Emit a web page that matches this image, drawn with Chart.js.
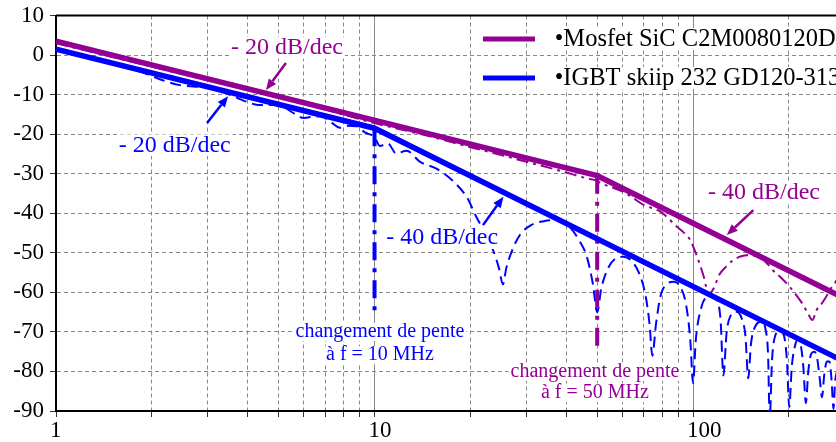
<!DOCTYPE html>
<html>
<head>
<meta charset="utf-8">
<script src="https://cdn.jsdelivr.net/npm/chart.js@4.4.1/dist/chart.umd.min.js"></script>
<style>
  html, body { margin: 0; padding: 0; background: #fff; overflow: hidden; }
</style>
</head>
<body>
<canvas id="chart" width="836" height="442"></canvas>
<script>
// frequency axis (MHz), log scale
const FREQ_TICKS = [1, 2, 3, 4, 5, 6, 7, 8, 9, 10, 20, 30, 40, 50, 60, 70, 80, 90, 100, 200]
const FREQ_LABELED = [1, 10, 100]
const FREQ_MAJOR = [10, 100]

const SERIES_NAMES = ["•Mosfet SiC C2M0080120D", "•IGBT skiip 232 GD120-313"]

// asymptotes (thick lines)
const mosAsymF = [1, 50, 300]
const mosAsymDb = [3.5, -30.5, -61.6]
const igbtAsymF = [1, 10, 300]
const igbtAsymDb = [1.5, -18.5, -77.6]

// slope-change markers
const igbtKneeF = [10, 10]
const igbtKneeDb = [-18.5, -65]
const mosKneeF = [50, 50]
const mosKneeDb = [-30.5, -75.5]

// measured spectrum, Mosfet (dash-dot)
const mosF = [1, 3, 6, 10, 15, 20, 25, 30, 35, 40, 46, 50, 51.3, 55, 60.5, 65, 70, 79, 89, 93, 98, 103, 108, 112,
  116, 121, 127, 133, 140, 147, 154, 161.5, 170, 178, 190, 200, 210, 221, 230, 237, 244, 250, 260, 270, 285]
const mosDb = [3.0, -6.4, -12.3, -17.2, -20.6, -23.3, -25.3, -27.0, -28.4, -29.7, -31.1, -31.8, -32.4, -33.3, -34.6, -36.2,
  -37.9, -39.6, -43.4, -44.7, -46.8, -51, -56, -60.5, -59, -55.5, -53.5, -52, -51, -50.6, -50.7, -51, -52.5, -54.4,
  -56.5, -58.4, -60.5, -63, -65.5, -67, -64.5, -63.5, -61.5, -59.2, -56.5]

// measured spectrum, IGBT (dashed)
const igbtF = [1, 1.5, 1.9, 2.15, 2.45, 2.75, 3.05, 3.3, 3.7, 4.0, 4.3, 4.6, 4.9, 5.2, 5.6, 6.0, 6.4, 6.8, 7.3, 7.8, 8.3,
  8.8, 9.3, 10, 10.4, 11, 11.7, 12.6, 13.9, 15.7, 17.6, 19.5, 20.9, 22.4, 23.6, 24.6, 25.3, 25.9, 27, 28.6, 31, 34,
  38, 41, 44, 46.4, 48.5, 50, 51.5, 54, 57, 60.5, 64, 68, 71, 73, 74.5, 76.5, 79, 83, 87, 91, 95, 98, 100, 102, 106,
  110, 114.5, 119, 122, 124.5, 127.5, 131, 137, 142, 146, 149, 152, 157, 164, 169, 172, 174, 177, 181, 187, 193, 197,
  200.5, 204, 209, 213, 218, 222, 226, 230, 235, 240, 245, 250, 254, 258, 263, 268, 272, 276, 279, 285]
const igbtDb = [1.3, -2.2, -4.6, -6.3, -7.6, -8.0, -8.4, -9.2, -10.8, -11.9, -12.6, -12.6, -12.6, -13.2, -14.8, -15.9,
  -15.6, -15.5, -17.0, -18.4, -17.9, -18.0, -19.5, -20.8, -23, -22.3, -24.9, -24.2, -27, -28.8, -31.8, -36, -41, -45.5,
  -49.5, -54, -58, -54, -49.5, -45.5, -43, -42, -41.7, -43.5, -47, -51, -58, -65, -59, -54, -51.5, -51, -52, -55.5,
  -61, -68, -76, -68, -61, -57.8, -57.3, -58.5, -63, -72, -83, -72, -64, -61.2, -60.7, -62, -67, -81, -70, -66, -64.9,
  -66.5, -71, -81.7, -73, -68.5, -67.4, -69.5, -76, -92, -77, -71, -69.7, -71, -77, -89, -79, -73.5, -72, -73.5, -79,
  -88, -80, -75.5, -75, -76.5, -82, -86.5, -81, -77.5, -77.5, -82, -89.5, -83, -79]

const PURPLE = "#930093"
const BLUE = "#0000ff"
const FONT = '"Liberation Serif", "Times New Roman", serif'

// annotations, placed in data coordinates
const LABELS = [
  { text: "- 20 dB/dec", f: 5.31, db: 1.8, size: 24, color: PURPLE },
  { text: "- 20 dB/dec", f: 2.36, db: -22.8, size: 24, color: BLUE },
  { text: "- 40 dB/dec", f: 16.3, db: -46.3, size: 24, color: BLUE },
  { text: "- 40 dB/dec", f: 167, db: -34.9, size: 24, color: PURPLE },
  { text: "changement de pente", f: 10.4, db: -70, size: 20, color: BLUE },
  { text: "à f = 10 MHz", f: 10.4, db: -75.9, size: 20, color: BLUE },
  { text: "changement de pente", f: 49.2, db: -80.1, size: 20, color: PURPLE },
  { text: "à f = 50 MHz", f: 49.2, db: -85.5, size: 20, color: PURPLE },
]
const ARROWS = [
  { f1: 5.27, db1: -2.0, f2: 4.56, db2: -8.85, color: PURPLE },
  { f1: 2.98, db1: -17.2, f2: 3.47, db2: -10.4, color: BLUE },
  { f1: 21.9, db1: -43, f2: 25.4, db2: -35.8, color: BLUE },
  { f1: 154.6, db1: -39.2, f2: 127.6, db2: -45.5, color: PURPLE },
]

function pts(fs, ds) {
  return fs.map((f, i) => ({ x: f, y: ds[i] }))
}

const annotations = {
  id: "annotations",
  afterDatasetsDraw(chart) {
    const { ctx, chartArea: a, scales } = chart
    const X = (v) => scales.x.getPixelForValue(v)
    const Y = (v) => scales.y.getPixelForValue(v)
    ctx.save()

    // top frame
    ctx.strokeStyle = "#000"
    ctx.lineWidth = 2
    ctx.beginPath()
    ctx.moveTo(a.left, a.top)
    ctx.lineTo(a.right, a.top)
    ctx.stroke()

    // text labels with white backing
    ctx.textAlign = "center"
    ctx.textBaseline = "middle"
    LABELS.forEach((l) => {
      ctx.font = `${l.size}px ${FONT}`
      const w = ctx.measureText(l.text).width
      const px = X(l.f), py = Y(l.db)
      ctx.fillStyle = "#fff"
      ctx.fillRect(px - w / 2 - 2, py - l.size * 0.45, w + 4, l.size * 0.9)
      ctx.fillStyle = l.color
      ctx.fillText(l.text, px, py)
    })

    // arrows
    ARROWS.forEach((r) => {
      const x1 = X(r.f1), y1 = Y(r.db1), x2 = X(r.f2), y2 = Y(r.db2)
      const ang = Math.atan2(y2 - y1, x2 - x1)
      const hl = 11, hw = 4.5
      const bx = x2 - hl * Math.cos(ang), by = y2 - hl * Math.sin(ang)
      ctx.strokeStyle = r.color
      ctx.fillStyle = r.color
      ctx.lineWidth = 2.5
      ctx.beginPath()
      ctx.moveTo(x1, y1)
      ctx.lineTo(bx, by)
      ctx.stroke()
      ctx.beginPath()
      ctx.moveTo(x2, y2)
      ctx.lineTo(bx + hw * Math.sin(ang), by - hw * Math.cos(ang))
      ctx.lineTo(bx - hw * Math.sin(ang), by + hw * Math.cos(ang))
      ctx.closePath()
      ctx.fill()
    })

    // legend, inside the plot at top right
    const rows = [
      { name: SERIES_NAMES[0], color: PURPLE, db: 4.05 },
      { name: SERIES_NAMES[1], color: BLUE, db: -5.8 },
    ]
    ctx.font = `24.5px ${FONT}`
    ctx.textAlign = "left"
    rows.forEach((r) => {
      const py = Y(r.db)
      const tx = X(36.8)
      const w = ctx.measureText(r.name).width
      ctx.fillStyle = "#fff"
      ctx.fillRect(tx - 2, py - 11, w + 4, 22)
      ctx.strokeStyle = r.color
      ctx.lineWidth = 5
      ctx.beginPath()
      ctx.moveTo(X(21.9), py)
      ctx.lineTo(X(31.9), py)
      ctx.stroke()
      ctx.fillStyle = "#000"
      ctx.fillText(r.name, tx, py + 1)
    })
    ctx.restore()
  },
}

new Chart(document.getElementById("chart"), {
  type: "line",
  data: {
    datasets: [
      { data: pts(mosAsymF, mosAsymDb), borderColor: PURPLE, borderWidth: 5.5 },
      { data: pts(igbtAsymF, igbtAsymDb), borderColor: BLUE, borderWidth: 5.5 },
      { data: pts(mosKneeF, mosKneeDb), borderColor: PURPLE, borderWidth: 4, borderDash: [18, 8, 4, 8] },
      { data: pts(igbtKneeF, igbtKneeDb), borderColor: BLUE, borderWidth: 4, borderDash: [18, 8, 4, 8] },
      { data: pts(mosF, mosDb), borderColor: PURPLE, borderWidth: 2, borderDash: [12, 5, 3, 5], cubicInterpolationMode: "monotone" },
      { data: pts(igbtF, igbtDb), borderColor: BLUE, borderWidth: 2, borderDash: [11, 6], cubicInterpolationMode: "monotone" },
    ],
  },
  options: {
    responsive: false,
    animation: false,
    parsing: false,
    layout: { padding: { top: 15.5, right: 0, left: 0, bottom: 0 } },
    elements: { point: { radius: 0 }, line: { tension: 0, fill: false } },
    plugins: { legend: { display: false }, tooltip: { enabled: false } },
    scales: {
      x: {
        type: "logarithmic",
        min: 1,
        max: 281,
        afterBuildTicks: (s) => {
          s.ticks = FREQ_TICKS.map((v) => ({ value: v }))
        },
        afterFit: (s) => {
          s.height = 31
          s.paddingLeft = 0
          s.paddingRight = 0
        },
        ticks: {
          autoSkip: false,
          maxRotation: 0,
          align: "start",
          labelOffset: -6,
          padding: 0,
          color: "#000",
          font: { family: FONT, size: 23 },
          callback: (v) => (FREQ_LABELED.includes(v) ? String(v) : ""),
        },
        grid: {
          color: (c) => (c.tick && c.tick.value === 1 ? "rgba(0,0,0,0)" : "#888"),
          tickColor: "#333",
          tickLength: 6,
        },
        border: {
          color: "#000",
          width: 2,
          dash: (c) => (c.tick && FREQ_MAJOR.includes(c.tick.value) ? [] : [4, 3]),
        },
      },
      y: {
        min: -90,
        max: 10,
        afterFit: (s) => {
          s.width = 56
          s.paddingTop = 0
          s.paddingBottom = 0
        },
        ticks: {
          stepSize: 10,
          padding: 6,
          color: "#000",
          font: { family: FONT, size: 23 },
        },
        grid: {
          color: (c) => (c.tick && (c.tick.value === 10 || c.tick.value === -90) ? "rgba(0,0,0,0)" : "#888"),
          tickColor: "#333",
          tickLength: 6,
        },
        border: { color: "#000", width: 2, dash: [4, 3] },
      },
    },
  },
  plugins: [annotations],
})
</script>
</body>
</html>
